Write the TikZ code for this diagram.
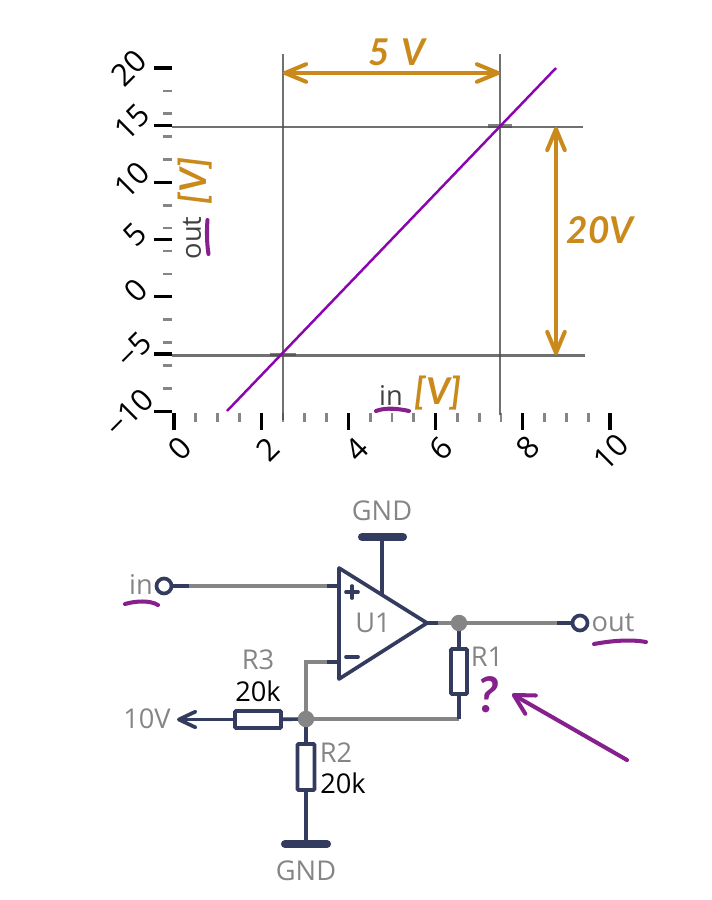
\documentclass[tikz,border=0pt]{standalone}
\usepackage{fontspec}
\setmainfont{Open Sans}
\newfontfamily\handfont{Lato}
\usetikzlibrary{arrows.meta}
\definecolor{navy}{HTML}{333B5E}
\definecolor{wiregray}{HTML}{858585}
\definecolor{labelgray}{HTML}{858585}
\definecolor{hand}{HTML}{C98A1B}
\definecolor{plum}{HTML}{86208C}
\definecolor{trace}{HTML}{8A05B0}
\tikzset{
  wire/.style={draw=wiregray, line width=2.1pt},
  pin/.style={draw=navy, line width=2.1pt},
  res/.style={draw=navy, line width=2.1pt, rounded corners=0.5pt, fill=white, inner sep=0pt},
  term/.style={draw=navy, line width=2.1pt, fill=white, shape=circle, inner sep=0pt, minimum size=0.3cm},
  junc/.style={fill=wiregray, shape=circle, inner sep=0pt, minimum size=0.33cm},
  rail/.style={draw=navy, line width=4.6pt, line cap=round},
  lab/.style={text=labelgray, inner sep=0pt, font=\fontsize{15.5}{17}\selectfont},
  val/.style={text=black, inner sep=0pt, font=\fontsize{15.5}{17}\selectfont},
  ticklab/.style={text=black, inner sep=0pt, rotate=45, font=\fontsize{17.5}{19}\selectfont},
  guide/.style={draw=black!70, line width=1.4pt, opacity=0.8},
  sketch/.style={draw=hand, line width=2.3pt, line cap=round, line join=round},
  scrawl/.style={draw=plum, line width=2.3pt, line cap=round, line join=round},
  handtxt/.style={text=hand, inner sep=0pt, font=\handfont\bfseries\itshape\fontsize{21}{22}\selectfont},
  barb/.tip={Straight Barb[length=12pt, width=10pt, line width=2.3pt, round]}
}
\begin{document}
\begin{tikzpicture}[x=0.02cm, y=-0.02cm]
  \useasboundingbox (0,0) rectangle (711,900);
  % axes
  \foreach \k in {0,...,15} {
    \draw[draw=wiregray, line width=1.5pt] ({172-9},{68+22.87*\k}) -- (172,{68+22.87*\k});
  }
  \foreach \k in {0,...,20} {
    \draw[draw=wiregray, line width=1.5pt] ({174+21.8*\k},413) -- ({174+21.8*\k},422);
  }
  \foreach \y in {68,125.2,182.4,239.6,296.8,354,411.2} {
    \draw[draw=black, line width=1.8pt] (154,\y) -- (172,\y);
  }
  \foreach \x in {174,261.2,348.4,435.6,522.8,610} {
    \draw[draw=black, line width=1.8pt] (\x,413) -- (\x,430);
  }
  \foreach \x/\y/\t/\n in {129/68/20/a,132/122/15/b,132/180/10/c,135/235/5/d,136/291/0/e,134/350/−5/f,129/413/−10/g} {
    \node[ticklab] (y\n) at (\x,\y) {\t};
  }
  \foreach \x/\y/\t in {180/449/0,268/449/2,357/449/4,441/449/6,528/448/8,611/452/10} {
    \node[ticklab] (x\t) at (\x,\y) {\t};
  }
  % guides
  \coordinate (gl1) at (283,54);
  \coordinate (gl2) at (283,420);
  \coordinate (gr1) at (500,54);
  \coordinate (gr2) at (500,415);
  \coordinate (gt1) at (172,127);
  \coordinate (gt2) at (583,127);
  \coordinate (gb1) at (172,355.5);
  \coordinate (gb2) at (585,355.5);
  \draw[guide] (gl1) -- (gl2);
  \draw[guide] (gr1) -- (gr2);
  \draw[guide] (gt1) -- (gt2);
  \draw[guide] (gb1) -- (gb2);
  \draw[draw=black!70, line width=2pt, opacity=0.7] (270,354.5) -- (296,354.5);
  \draw[draw=black!70, line width=2pt, opacity=0.7] (488,126) -- (512,126);
  % transfer curve
  \coordinate (c1) at (227,411);
  \coordinate (c2) at (556,68);
  \draw[draw=trace, line width=1.4pt] (c1) -- (c2);
  % sketched dimensions
  \coordinate (da) at (283,73);
  \coordinate (db) at (500,73);
  \coordinate (dc) at (556,127);
  \coordinate (dd) at (556,355);
  \draw[sketch, {barb}-{barb}] (da) -- (db);
  \draw[sketch, {barb}-{barb}] (dc) -- (dd);
  \node[handtxt] (dx) at (397,52) {5\,\,V};
  \node[handtxt] (dy) at (600,230) {20V};
  \node[handtxt, rotate=90] (oy) at (195,181) {[V]};
  \node[handtxt] (ox) at (438,393) {[V]};
  \node[lab, rotate=90, text=black!75] (ny) at (192,238) {out};
  \node[lab, text=black!75] (nx) at (391,396) {in};
  \draw[scrawl] (207.5,220) .. controls (206.5,232) and (207,245) .. (208.5,254);
  \draw[scrawl] (376,411) .. controls (386,407) and (400,409) .. (409,411);
  % op amp
  \coordinate (ua) at (339,568);
  \coordinate (ub) at (339,679);
  \coordinate (uo) at (427,623);
  \coordinate (up) at (339,586);
  \coordinate (um) at (339,662);
  \coordinate (uv) at (382,595);
  \draw[draw=navy, line width=2.1pt, line join=round] (ua) -- (ub) -- (uo) -- cycle;
  \draw[pin, line cap=round] (346,592) -- (358,592) (352,586) -- (352,598);
  \draw[pin, line cap=round] (346,657) -- (358,657);
  \node[lab] (u1) at (373,623) {U1};
  % top ground
  \coordinate (g1a) at (362,537);
  \coordinate (g1b) at (403,537);
  \coordinate (g1) at (382,537);
  \draw[rail] (g1a) -- (g1b);
  \draw[pin] (g1) -- (uv);
  \node[lab] (g1t) at (382,511) {GND};
  % input
  \node[term] (in) at (164,586) {};
  \coordinate (in1) at (189,586);
  \coordinate (in2) at (327,586);
  \draw[wire] (in1) -- (in2);
  \draw[pin] (in) -- (in1);
  \draw[pin] (in2) -- (up);
  \node[lab] (int) at (141,584) {in};
  \draw[scrawl] (125,604) .. controls (135,601) and (150,600) .. (158,605);
  % output
  \coordinate (jo) at (459,623);
  \node[term] (out) at (580,623) {};
  \coordinate (o1) at (438,623);
  \coordinate (o2) at (557,623);
  \draw[wire] (o1) -- (o2);
  \draw[pin] (uo) -- (o1);
  \draw[pin] (o2) -- (out);
  \node[lab] (outt) at (613,623) {out};
  \draw[scrawl] (594,644) .. controls (610,641) and (630,639) .. (646,642);
  % feedback
  \coordinate (jf) at (306,719);
  \node[res, minimum width=0.32cm, minimum height=0.9cm] (r1) at (459,671.5) {};
  \coordinate (r1b) at (459,719);
  \draw[wire] (jf) -- (r1b);
  \draw[pin] (jo) -- (r1);
  \draw[pin] (r1) -- (r1b);
  \node[junc] (jout) at (jo) {};
  \node[lab] (r1t) at (487,657) {R1};
  \node[text=plum, inner sep=0pt, font=\handfont\bfseries\itshape\fontsize{28}{30}\selectfont] (q) at (488,695) {?};
  \coordinate (a1) at (627,760);
  \coordinate (a2) at (512,694);
  \draw[scrawl, -{Straight Barb[length=11pt, width=12pt, line width=2.3pt, round]}] (a1) -- (a2);
  % minus input
  \coordinate (m1) at (327,662);
  \coordinate (m2) at (306,662);
  \draw[wire] (m1) -- (m2) -- (jf);
  \draw[pin] (m1) -- (um);
  % R3
  \node[res, minimum width=0.92cm, minimum height=0.34cm] (r3) at (258,719.5) {};
  \coordinate (ref) at (177,719.5);
  \draw[pin, -{Straight Barb[length=9.5pt, width=9pt, line width=2.1pt, round]}] (r3) -- (ref);
  \draw[pin] (r3) -- (jf);
  \node[lab] (reft) at (147,719) {10V};
  \node[lab] (r3t) at (258,660) {R3};
  \node[val] (r3v) at (258,691) {20k};
  % R2
  \node[res, minimum width=0.34cm, minimum height=0.92cm] (r2) at (306,767) {};
  \coordinate (g2) at (306,844);
  \coordinate (g2a) at (285,844);
  \coordinate (g2b) at (327,844);
  \draw[pin] (jf) -- (r2);
  \draw[pin] (r2) -- (g2);
  \draw[rail] (g2a) -- (g2b);
  \node[junc] (jfb) at (jf) {};
  \node[lab] (r2t) at (336,753) {R2};
  \node[val] (r2v) at (343,783) {20k};
  \node[lab] (g2t) at (306,871) {GND};
\end{tikzpicture}
\end{document}
